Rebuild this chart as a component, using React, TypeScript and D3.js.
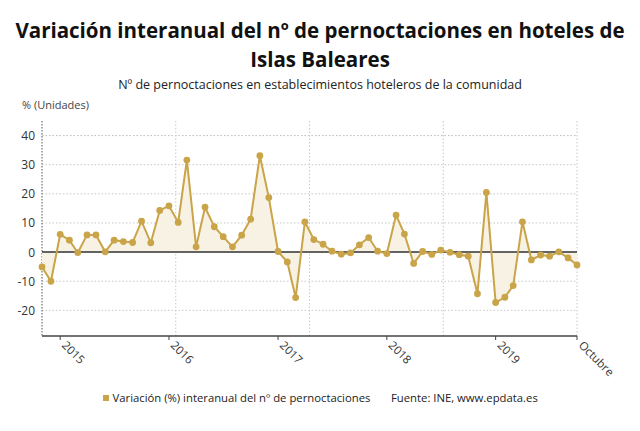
import React from "react";
import * as d3 from "d3";

const WIDTH = 640;
const HEIGHT = 431;

// monthly series, Nov 2014 .. Oct 2019
const startMonth = new Date(2014, 10, 1);
const values2014 = [-5.1, -10];
const values2015 = [6.1, 4.1, -0.2, 5.9, 5.9, 0.1, 4.1, 3.6, 3.3, 10.6, 3.2, 14.3];
const values2016 = [15.9, 10.2, 31.6, 1.8, 15.4, 8.7, 5.3, 1.8, 5.8, 11.3, 33.1, 18.7];
const values2017 = [0.2, -3.4, -15.6, 10.4, 4.3, 2.7, 0.3, -0.7, -0.3, 2.5, 5.0, 0.3];
const values2018 = [-0.5, 12.7, 6.2, -3.9, 0.2, -0.8, 0.7, -0.1, -0.9, -1.4, -14.3, 20.5];
const values2019 = [-17.3, -15.5, -11.5, 10.4, -2.7, -1.0, -1.4, 0.1, -2.0, -4.4];

const yTicks = [-20, -10, 0, 10, 20, 30, 40];
const xTickLabels = ["2015", "2016", "2017", "2018", "2019", "Octubre"];

const title = ["Variación interanual del nº de pernoctaciones en hoteles de", "Islas Baleares"];
const subtitle = "Nº de pernoctaciones en establecimientos hoteleros de la comunidad";
const yUnit = "% (Unidades)";
const legendText = "Variación (%) interanual del nº de pernoctaciones";
const sourceText = "Fuente: INE, www.epdata.es";

const GOLD = "#c9a448";

type Point = { date: Date; value: number };

const allValues = [...values2014, ...values2015, ...values2016, ...values2017, ...values2018, ...values2019];
const data: Point[] = allValues.map((v, i) => ({
  date: new Date(startMonth.getFullYear(), startMonth.getMonth() + i, 1),
  value: v,
}));

const App = () => {
  const margin = { left: 42, right: 63, top: 121, bottom: 95 };
  const innerRight = WIDTH - margin.right;
  const innerBottom = HEIGHT - margin.bottom;

  const x = d3
    .scaleTime()
    .domain(d3.extent(data, d => d.date) as [Date, Date])
    .range([margin.left, innerRight]);
  const y = d3.scaleLinear().domain([-28.8, 45]).range([innerBottom, margin.top]);

  const line = d3
    .line<Point>()
    .x(d => x(d.date))
    .y(d => y(d.value));
  const area = d3
    .area<Point>()
    .x(d => x(d.date))
    .y0(y(0))
    .y1(d => y(d.value));

  // vertical grid splits the time range in four
  const [d0, d1] = x.domain();
  const gridX = d3.range(1, 5).map(k => new Date(+d0 + ((+d1 - +d0) * k) / 4));

  const tickDates = [2015, 2016, 2017, 2018, 2019].map(yr => new Date(yr, 0, 1)).concat([d1]);

  const font = "'Open Sans', 'Noto Sans', sans-serif";

  return (
    <svg width={WIDTH} height={HEIGHT} style={{ display: "block", margin: "-8px", fontFamily: font }}>
      <rect width={WIDTH} height={HEIGHT} fill="#fff" />
      {title.map((t, i) => (
        <text key={i} x={WIDTH / 2} y={38 + i * 29} textAnchor="middle" fontSize={20.5} fontWeight={700} fill="#111">
          {t}
        </text>
      ))}
      <text x={WIDTH / 2} y={89} textAnchor="middle" fontSize={12.5} fill="#222">
        {subtitle}
      </text>
      <text x={22} y={109} fontSize={11} fill="#444">
        {yUnit}
      </text>

      {yTicks.concat([40]).map(t => (
        <line
          key={"gy" + t}
          x1={margin.left}
          x2={innerRight}
          y1={y(t)}
          y2={y(t)}
          stroke="#c8c8c8"
          strokeDasharray="1.5,2"
        />
      ))}
      {gridX.map((g, i) => (
        <line
          key={"gx" + i}
          x1={x(g)}
          x2={x(g)}
          y1={margin.top}
          y2={innerBottom}
          stroke="#c8c8c8"
          strokeDasharray="1.5,2"
        />
      ))}
      <line x1={margin.left} x2={margin.left} y1={margin.top} y2={innerBottom} stroke="#555" strokeDasharray="1.5,1.5" />

      {yTicks.map(t => (
        <text key={"yt" + t} x={35} y={y(t) + 4.5} textAnchor="end" fontSize={12} fill="#333">
          {t}
        </text>
      ))}

      <path d={area(data) || ""} fill="#f8f2e4" />
      <line x1={margin.left} x2={innerRight} y1={y(0)} y2={y(0)} stroke="#333" strokeWidth={1.5} />
      <path d={line(data) || ""} fill="none" stroke={GOLD} strokeWidth={2} />
      {data.map((d, i) => (
        <circle key={i} cx={x(d.date)} cy={y(d.value)} r={3.4} fill={GOLD} />
      ))}

      <line x1={margin.left} x2={innerRight} y1={innerBottom} y2={innerBottom} stroke="#444" strokeWidth={1.5} />
      {tickDates.map((td, i) => (
        <g key={"xt" + i} transform={`translate(${x(td)},${innerBottom})`}>
          <line y1={0} y2={4} stroke="#444" />
          <text transform="translate(1,10) rotate(45)" fontSize={11.5} fill="#333">
            {xTickLabels[i]}
          </text>
        </g>
      ))}

      <rect x={103} y={395} width={6} height={6} fill={GOLD} />
      <text x={112.5} y={402} fontSize={11.3} fill="#222">
        {legendText}
      </text>
      <text x={391} y={402} fontSize={11.3} fill="#222">
        {sourceText}
      </text>
    </svg>
  );
};

export default App;
